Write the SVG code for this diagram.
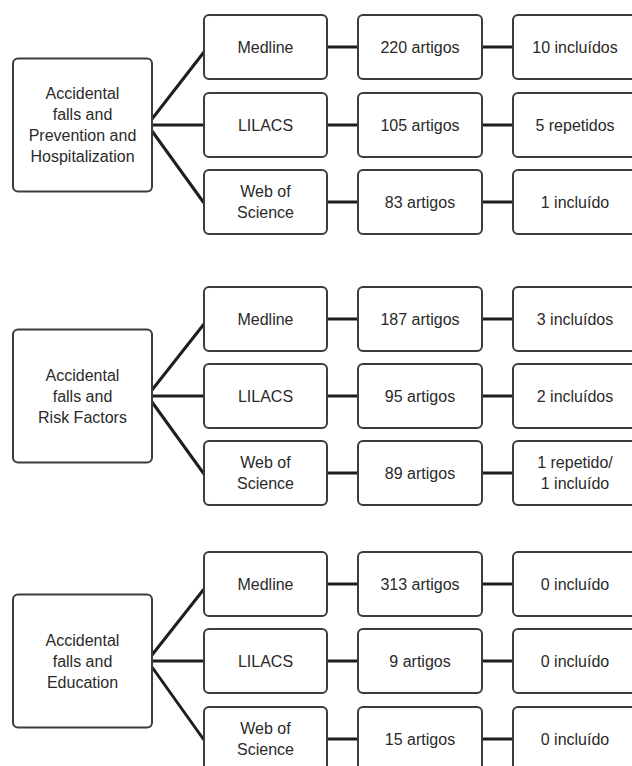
<svg xmlns="http://www.w3.org/2000/svg" width="632" height="766" viewBox="0 0 632 766">
<style>
.box{fill:#fff;stroke:#3c3c3c;stroke-width:2}
.t{font-family:"Liberation Sans",Arial,sans-serif;font-size:16px;fill:#2a2a2a;text-anchor:middle}
.c{stroke:#1e1e1e;stroke-width:3;fill:none}
</style>
<rect width="632" height="766" fill="#fff"/>
<g id="connectors">
<path class="c" d="M152,119 L204,52 M152,125 L204,125 M152,131 L204,203"/>
<path class="c" d="M327,47 H358 M482,47 H513 M327,125 H358 M482,125 H513 M327,202 H358 M482,202 H513"/>
<path class="c" d="M152,390 L204,324 M152,396 L204,396 M152,402 L204,474"/>
<path class="c" d="M327,319 H358 M482,319 H513 M327,396 H358 M482,396 H513 M327,473 H358 M482,473 H513"/>
<path class="c" d="M152,655 L204,589 M152,661 L204,661 M152,667 L204,740"/>
<path class="c" d="M327,584 H358 M482,584 H513 M327,661 H358 M482,661 H513 M327,739 H358 M482,739 H513"/>
</g>
<!-- Group 1 -->
<g id="topic1"><rect class="box" x="13" y="58.5" width="139" height="133" rx="5"/>
<text class="t" x="82.5" y="99">Accidental</text><text class="t" x="82.5" y="120">falls and</text><text class="t" x="82.5" y="141">Prevention and</text><text class="t" x="82.5" y="162">Hospitalization</text></g>
<g id="t1-medline"><rect class="box" x="204" y="15" width="123" height="64" rx="5"/><text class="t" x="265.5" y="52.5">Medline</text></g>
<g id="t1-lilacs"><rect class="box" x="204" y="93" width="123" height="64" rx="5"/><text class="t" x="265.5" y="130.5">LILACS</text></g>
<g id="t1-wos"><rect class="box" x="204" y="170" width="123" height="64" rx="5"/><text class="t" x="265.5" y="197">Web of</text><text class="t" x="265.5" y="218">Science</text></g>
<g id="t1-medline-n"><rect class="box" x="358" y="15" width="124" height="64" rx="5"/><text class="t" x="420" y="52.5">220 artigos</text></g>
<g id="t1-lilacs-n"><rect class="box" x="358" y="93" width="124" height="64" rx="5"/><text class="t" x="420" y="130.5">105 artigos</text></g>
<g id="t1-wos-n"><rect class="box" x="358" y="170" width="124" height="64" rx="5"/><text class="t" x="420" y="207.5">83 artigos</text></g>
<g id="t1-medline-r"><rect class="box" x="513" y="15" width="130" height="64" rx="5"/><text class="t" x="575" y="52.5">10 incluídos</text></g>
<g id="t1-lilacs-r"><rect class="box" x="513" y="93" width="130" height="64" rx="5"/><text class="t" x="575" y="130.5">5 repetidos</text></g>
<g id="t1-wos-r"><rect class="box" x="513" y="170" width="130" height="64" rx="5"/><text class="t" x="575" y="207.5">1 incluído</text></g>
<!-- Group 2 -->
<g id="topic2"><rect class="box" x="13" y="329.5" width="139" height="133" rx="5"/>
<text class="t" x="82.5" y="380.5">Accidental</text><text class="t" x="82.5" y="401.5">falls and</text><text class="t" x="82.5" y="422.5">Risk Factors</text></g>
<g id="t2-medline"><rect class="box" x="204" y="287" width="123" height="64" rx="5"/><text class="t" x="265.5" y="324.5">Medline</text></g>
<g id="t2-lilacs"><rect class="box" x="204" y="364" width="123" height="64" rx="5"/><text class="t" x="265.5" y="401.5">LILACS</text></g>
<g id="t2-wos"><rect class="box" x="204" y="441" width="123" height="64" rx="5"/><text class="t" x="265.5" y="468">Web of</text><text class="t" x="265.5" y="489">Science</text></g>
<g id="t2-medline-n"><rect class="box" x="358" y="287" width="124" height="64" rx="5"/><text class="t" x="420" y="324.5">187 artigos</text></g>
<g id="t2-lilacs-n"><rect class="box" x="358" y="364" width="124" height="64" rx="5"/><text class="t" x="420" y="401.5">95 artigos</text></g>
<g id="t2-wos-n"><rect class="box" x="358" y="441" width="124" height="64" rx="5"/><text class="t" x="420" y="478.5">89 artigos</text></g>
<g id="t2-medline-r"><rect class="box" x="513" y="287" width="130" height="64" rx="5"/><text class="t" x="575" y="324.5">3 incluídos</text></g>
<g id="t2-lilacs-r"><rect class="box" x="513" y="364" width="130" height="64" rx="5"/><text class="t" x="575" y="401.5">2 incluídos</text></g>
<g id="t2-wos-r"><rect class="box" x="513" y="441" width="130" height="64" rx="5"/><text class="t" x="575" y="468">1 repetido/</text><text class="t" x="575" y="489">1 incluído</text></g>
<!-- Group 3 -->
<g id="topic3"><rect class="box" x="13" y="594.5" width="139" height="133" rx="5"/>
<text class="t" x="82.5" y="645.5">Accidental</text><text class="t" x="82.5" y="666.5">falls and</text><text class="t" x="82.5" y="687.5">Education</text></g>
<g id="t3-medline"><rect class="box" x="204" y="552" width="123" height="64" rx="5"/><text class="t" x="265.5" y="589.5">Medline</text></g>
<g id="t3-lilacs"><rect class="box" x="204" y="629" width="123" height="64" rx="5"/><text class="t" x="265.5" y="666.5">LILACS</text></g>
<g id="t3-wos"><rect class="box" x="204" y="707" width="123" height="64" rx="5"/><text class="t" x="265.5" y="734">Web of</text><text class="t" x="265.5" y="755">Science</text></g>
<g id="t3-medline-n"><rect class="box" x="358" y="552" width="124" height="64" rx="5"/><text class="t" x="420" y="589.5">313 artigos</text></g>
<g id="t3-lilacs-n"><rect class="box" x="358" y="629" width="124" height="64" rx="5"/><text class="t" x="420" y="666.5">9 artigos</text></g>
<g id="t3-wos-n"><rect class="box" x="358" y="707" width="124" height="64" rx="5"/><text class="t" x="420" y="744.5">15 artigos</text></g>
<g id="t3-medline-r"><rect class="box" x="513" y="552" width="130" height="64" rx="5"/><text class="t" x="575" y="589.5">0 incluído</text></g>
<g id="t3-lilacs-r"><rect class="box" x="513" y="629" width="130" height="64" rx="5"/><text class="t" x="575" y="666.5">0 incluído</text></g>
<g id="t3-wos-r"><rect class="box" x="513" y="707" width="130" height="64" rx="5"/><text class="t" x="575" y="744.5">0 incluído</text></g>
</svg>
